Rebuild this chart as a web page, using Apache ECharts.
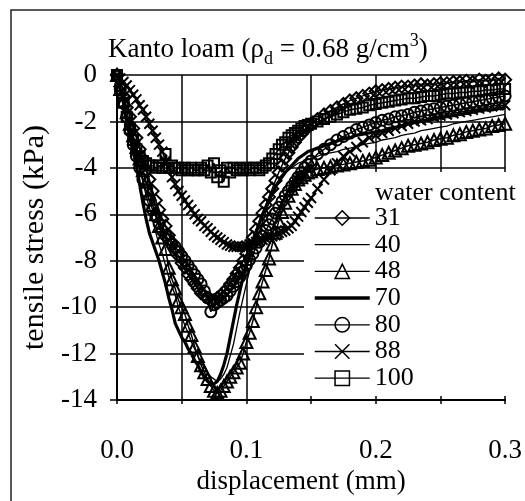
<!DOCTYPE html>
<html>
<head>
<meta charset="utf-8">
<script src="https://cdn.jsdelivr.net/npm/echarts@6/dist/echarts.min.js"></script>
<style>
  html, body { margin: 0; padding: 0; background: #fff; }
  #chart { width: 525px; height: 501px; }
</style>
</head>
<body>
<div id="chart"></div>
<script>
// Displacement sampling (mm)
const displacement = [
  0, 0.0025, 0.005, 0.0075, 0.01, 0.0125, 0.015, 0.0175, 0.02, 0.0225,
  0.025, 0.0275, 0.03, 0.0325, 0.035, 0.0375, 0.04, 0.0425, 0.045, 0.0475,
  0.05, 0.0525, 0.055, 0.0575, 0.06, 0.0625, 0.065, 0.0675, 0.07, 0.0725,
  0.075, 0.0775, 0.08, 0.0825, 0.085, 0.0875, 0.09, 0.0925, 0.095, 0.0975,
  0.1, 0.1025, 0.105, 0.1075, 0.11, 0.1125, 0.115, 0.1175, 0.12, 0.1225,
  0.125, 0.1275, 0.13, 0.1325, 0.135, 0.1375, 0.14, 0.1425, 0.145, 0.1475,
  0.15,
  0.155, 0.16, 0.165, 0.17, 0.175, 0.18, 0.185, 0.19, 0.195, 0.2,
  0.205, 0.21, 0.215, 0.22, 0.225, 0.23, 0.235, 0.24, 0.245, 0.25,
  0.255, 0.26, 0.265, 0.27, 0.275, 0.28, 0.285, 0.29, 0.295, 0.3
];

// Tensile stress (kPa) for each water content (%)
const stress31 = [
  0, -0.5, -0.9, -1.4, -1.8, -2.3, -2.7, -3.2, -3.6, -4.1,
  -4.5, -5.0, -5.4, -5.8, -6.2, -6.5, -6.9, -7.2, -7.5, -7.8,
  -8.1, -8.3, -8.6, -8.8, -9.0, -9.2, -9.4, -9.5, -9.6, -9.7,
  -9.7, -9.6, -9.5, -9.35, -9.2, -9.0, -8.8, -8.55, -8.3, -8.0,
  -7.7, -7.35, -7.0, -6.65, -6.3, -5.95, -5.6, -5.25, -4.9, -4.55,
  -4.2, -3.9, -3.6, -3.35, -3.1, -2.9, -2.7, -2.55, -2.4, -2.25,
  -2.1,
  -1.9, -1.7, -1.55, -1.4, -1.25, -1.1, -1.0, -0.9, -0.8, -0.7,
  -0.65, -0.6, -0.55, -0.5, -0.5, -0.45, -0.4, -0.45, -0.4, -0.35,
  -0.35, -0.3, -0.3, -0.25, -0.3, -0.2, -0.25, -0.2, -0.15, -0.2
];
const stress40 = [
  0, -0.5, -1.0, -1.6, -2.2, -2.8, -3.4, -4.0, -4.6, -5.2,
  -5.7, -6.2, -6.8, -7.3, -7.7, -8.2, -8.7, -9.1, -9.5, -10.0,
  -10.4, -10.8, -11.1, -11.5, -11.8, -12.1, -12.4, -12.6, -12.8, -13.0,
  -13.1, -13.2, -13.1, -12.9, -12.6, -12.1, -11.6, -10.9, -10.2, -9.6,
  -9.0, -8.4, -7.8, -7.3, -6.8, -6.3, -5.9, -5.5, -5.2, -4.9,
  -4.6, -4.4, -4.2, -4.1, -4.0, -3.9, -3.8, -3.75, -3.7, -3.65,
  -3.6,
  -3.5, -3.4, -3.35, -3.3, -3.2, -3.15, -3.1, -3.0, -2.95, -2.9,
  -2.8, -2.75, -2.7, -2.6, -2.55, -2.5, -2.4, -2.35, -2.3, -2.25,
  -2.2, -2.1, -2.05, -2.0, -1.95, -1.9, -1.85, -1.8, -1.75, -1.7
];
const stress48 = [
  0, -0.6, -1.1, -1.6, -2.1, -2.6, -3.1, -3.6, -4.1, -4.6,
  -5.1, -5.6, -6.0, -6.5, -7.0, -7.5, -8.3, -8.8, -9.2, -9.7,
  -10.0, -10.3, -10.8, -11.2, -11.7, -12.1, -12.5, -12.8, -13.1, -13.4,
  -13.6, -13.7, -13.6, -13.4, -13.2, -13.0, -12.8, -12.6, -12.4, -12.0,
  -11.5, -11.1, -10.6, -10.0, -9.4, -8.9, -8.4, -7.9, -7.3, -6.8,
  -6.3, -5.9, -5.5, -5.2, -4.9, -4.7, -4.5, -4.4, -4.3, -4.2,
  -4.15,
  -4.05, -4.0, -3.95, -3.9, -3.85, -3.8, -3.75, -3.7, -3.65, -3.55,
  -3.45, -3.35, -3.25, -3.15, -3.05, -3.0, -2.95, -2.9, -2.8, -2.75,
  -2.7, -2.6, -2.55, -2.45, -2.4, -2.35, -2.3, -2.2, -2.15, -2.1
];
const stress70 = [
  0, -0.6, -1.2, -2.0, -2.7, -3.3, -3.9, -4.7, -5.5, -6.2,
  -6.8, -7.2, -7.6, -8.0, -8.5, -9.0, -9.6, -10.1, -10.7, -11.0,
  -11.3, -11.5, -11.8, -12.0, -12.3, -12.5, -12.8, -13.0, -13.2, -13.3,
  -13.3, -13.2, -12.9, -12.5, -12.0, -11.3, -10.6, -9.9, -9.3, -8.7,
  -8.2, -7.7, -7.2, -6.8, -6.4, -6.0, -5.7, -5.4, -5.1, -4.8,
  -4.6, -4.4, -4.2, -4.05, -3.9, -3.75, -3.6, -3.5, -3.4, -3.3,
  -3.25,
  -3.15, -3.05, -2.95, -2.85, -2.75, -2.7, -2.6, -2.55, -2.5, -2.45,
  -2.4, -2.3, -2.25, -2.2, -2.1, -2.05, -2.0, -1.95, -1.9, -1.85,
  -1.8, -1.75, -1.7, -1.65, -1.6, -1.55, -1.5, -1.5, -1.45, -1.4
];
const stress80 = [
  0, -0.6, -1.2, -1.8, -2.4, -3.0, -3.5, -4.0, -4.5, -5.0,
  -5.4, -5.8, -6.1, -6.4, -6.7, -6.9, -7.1, -7.3, -7.4, -7.6,
  -7.8, -8.0, -8.2, -8.4, -8.6, -8.8, -9.0, -9.3, -9.6, -10.2,
  -9.9, -9.8, -9.7, -9.6, -9.5, -9.3, -9.1, -8.9, -8.7, -8.45,
  -8.2, -7.95, -7.7, -7.45, -7.2, -6.95, -6.7, -6.45, -6.2, -5.95,
  -5.7, -5.45, -5.2, -5.0, -4.8, -4.6, -4.4, -4.2, -4.0, -3.85,
  -3.7,
  -3.4, -3.2, -3.0, -2.8, -2.65, -2.5, -2.35, -2.25, -2.15, -2.05,
  -1.95, -1.9, -1.8, -1.75, -1.7, -1.6, -1.55, -1.5, -1.45, -1.4,
  -1.35, -1.3, -1.25, -1.2, -1.15, -1.1, -1.05, -1.0, -0.95, -0.9
];
const stress88 = [
  0, -0.15, -0.3, -0.45, -0.65, -0.85, -1.05, -1.3, -1.5, -1.8,
  -2.1, -2.4, -2.7, -3.0, -3.3, -3.7, -4.0, -4.4, -4.7, -5.0,
  -5.2, -5.4, -5.6, -5.8, -6.0, -6.2, -6.3, -6.5, -6.6, -6.75,
  -6.9, -7.0, -7.1, -7.2, -7.3, -7.35, -7.4, -7.4, -7.4, -7.4,
  -7.35, -7.3, -7.25, -7.2, -7.15, -7.1, -7.05, -7.0, -6.95, -6.9,
  -6.8, -6.75, -6.7, -6.6, -6.5, -6.3, -6.1, -5.9, -5.7, -5.5,
  -5.3,
  -4.9, -4.5, -4.1, -3.8, -3.5, -3.3, -3.1, -2.9, -2.7, -2.6,
  -2.5, -2.4, -2.3, -2.2, -2.1, -2.0, -1.95, -1.9, -1.8, -1.75,
  -1.7, -1.65, -1.6, -1.55, -1.5, -1.45, -1.4, -1.35, -1.3, -1.3
];
const stress100 = [
  0, -0.6, -1.2, -1.8, -2.3, -2.8, -3.2, -3.5, -3.7, -3.8,
  -3.9, -3.9, -4.0, -3.9, -4.0, -3.4, -4.0, -3.9, -4.0, -4.0,
  -4.1, -4.0, -4.1, -4.0, -4.1, -4.1, -4.0, -4.1, -3.9, -4.2,
  -3.8, -4.4, -4.1, -4.6, -4.0, -4.2, -4.0, -4.1, -4.0, -4.1,
  -4.0, -4.1, -4.0, -4.0, -4.1, -4.0, -3.9, -3.8, -3.6, -3.4,
  -3.2, -3.0, -2.9, -2.7, -2.6, -2.5, -2.4, -2.3, -2.2, -2.15,
  -2.1,
  -2.0, -1.9, -1.8, -1.7, -1.6, -1.5, -1.45, -1.4, -1.3, -1.25,
  -1.2, -1.15, -1.1, -1.05, -1.0, -1.0, -0.95, -0.9, -0.9, -0.85,
  -0.8, -0.8, -0.75, -0.75, -0.7, -0.7, -0.65, -0.65, -0.6, -0.6
];

const waterContents = ['31', '40', '48', '70', '80', '88', '100'];

const FONT = '"Liberation Serif", "Times New Roman", serif';
const CROSS = 'path://M0,0L10,10M10,0L0,10';
const CLEAR = 'rgba(255,255,255,0)';

function curve(name, values, symbol, symbolSize, lineWidth) {
  return {
    name: name,
    type: 'line',
    data: displacement.map((x, i) => [x, values[i]]),
    symbol: symbol || 'none',
    symbolSize: symbolSize || 0,
    showSymbol: !!symbol,
    showAllSymbol: true,
    lineStyle: { color: '#000', width: lineWidth },
    itemStyle: { color: CLEAR, borderColor: '#000', borderWidth: 2 },
    emphasis: { disabled: true },
    animation: false
  };
}

// Legend entries: plain lines carry no marker, 70 is the heavy line
const legendItems = waterContents.map(n => {
  if (n === '40') {
    return { name: n, itemStyle: { color: CLEAR, borderColor: CLEAR, borderWidth: 0 }, lineStyle: { width: 1.3 } };
  }
  if (n === '70') {
    return { name: n, itemStyle: { color: CLEAR, borderColor: CLEAR, borderWidth: 0 }, lineStyle: { width: 3.5 } };
  }
  return { name: n, itemStyle: { borderWidth: 1.5 }, lineStyle: { width: 1.3 } };
});

const chart = echarts.init(document.getElementById('chart'));
chart.setOption({
  animation: false,
  backgroundColor: '#fff',
  title: [
    {
      text: '{a|Kanto loam (ρ}{s|d}{a| = 0.68 g/cm}{p|3}{a|)}',
      left: 108, top: 32, padding: 0,
      textStyle: {
        rich: {
          a: { fontFamily: FONT, fontSize: 27, lineHeight: 36, color: '#000', fontWeight: 'normal' },
          s: { fontFamily: FONT, fontSize: 18, lineHeight: 18, color: '#000', fontWeight: 'normal', verticalAlign: 'bottom' },
          p: { fontFamily: FONT, fontSize: 18, lineHeight: 18, color: '#000', fontWeight: 'normal', verticalAlign: 'top' }
        }
      }
    },
    {
      text: 'water content',
      left: 375, top: 180, padding: 0,
      textStyle: { fontFamily: FONT, fontSize: 26, fontWeight: 'normal', color: '#000' }
    }
  ],
  grid: { left: 117, right: 18, top: 75, bottom: 101, containLabel: false },
  xAxis: {
    type: 'value', min: 0, max: 0.3, interval: 0.05,
    axisLine: { show: true, onZero: false, lineStyle: { color: '#000', width: 2 } },
    axisTick: { show: true, length: 4, lineStyle: { color: '#000', width: 1.5 } },
    splitLine: { show: true, lineStyle: { color: '#000', width: 1.5 } },
    axisLabel: {
      margin: 37, fontFamily: FONT, fontSize: 27, color: '#000',
      formatter: v => (Math.abs(v * 10 - Math.round(v * 10)) < 1e-6 ? v.toFixed(1) : '')
    },
    name: 'displacement (mm)', nameLocation: 'middle', nameGap: 63,
    nameTextStyle: { fontFamily: FONT, fontSize: 27, color: '#000', padding: [0, 20, 0, 0] }
  },
  yAxis: {
    type: 'value', min: -14, max: 0, interval: 2,
    axisLine: { show: true, onZero: false, lineStyle: { color: '#000', width: 2 } },
    axisTick: { show: true, length: 7, lineStyle: { color: '#000', width: 1.5 } },
    splitLine: { show: true, lineStyle: { color: '#000', width: 1.5 } },
    axisLabel: { margin: 20, fontFamily: FONT, fontSize: 27, color: '#000' },
    name: 'tensile stress (kPa)', nameLocation: 'middle', nameGap: 66, nameRotate: 90,
    nameTextStyle: { fontFamily: FONT, fontSize: 30, color: '#000' }
  },
  legend: {
    orient: 'vertical', left: 313, top: 205, padding: 0,
    itemWidth: 55, itemHeight: 18, itemGap: 0.7,
    selectedMode: false,
    textStyle: { fontFamily: FONT, fontSize: 26, lineHeight: 26, color: '#000' },
    data: legendItems
  },
  graphic: [
    { type: 'rect', z: 3, silent: true, shape: { x: 304, y: 172, width: 206, height: 224 }, style: { fill: '#fff' } },
    { type: 'rect', z: 0, silent: true, shape: { x: 11, y: 10, width: 540, height: 520 }, style: { fill: 'none', stroke: '#222', lineWidth: 1.5 } }
  ],
  series: [
    curve('31', stress31, 'diamond', 12, 1.5),
    curve('40', stress40, null, 0, 1.3),
    curve('48', stress48, 'triangle', 12, 1.5),
    curve('70', stress70, null, 0, 3.2),
    curve('80', stress80, 'circle', 11, 1.5),
    curve('88', stress88, CROSS, 10, 1.5),
    curve('100', stress100, 'rect', 10, 1.5)
  ]
});
</script>
</body>
</html>
